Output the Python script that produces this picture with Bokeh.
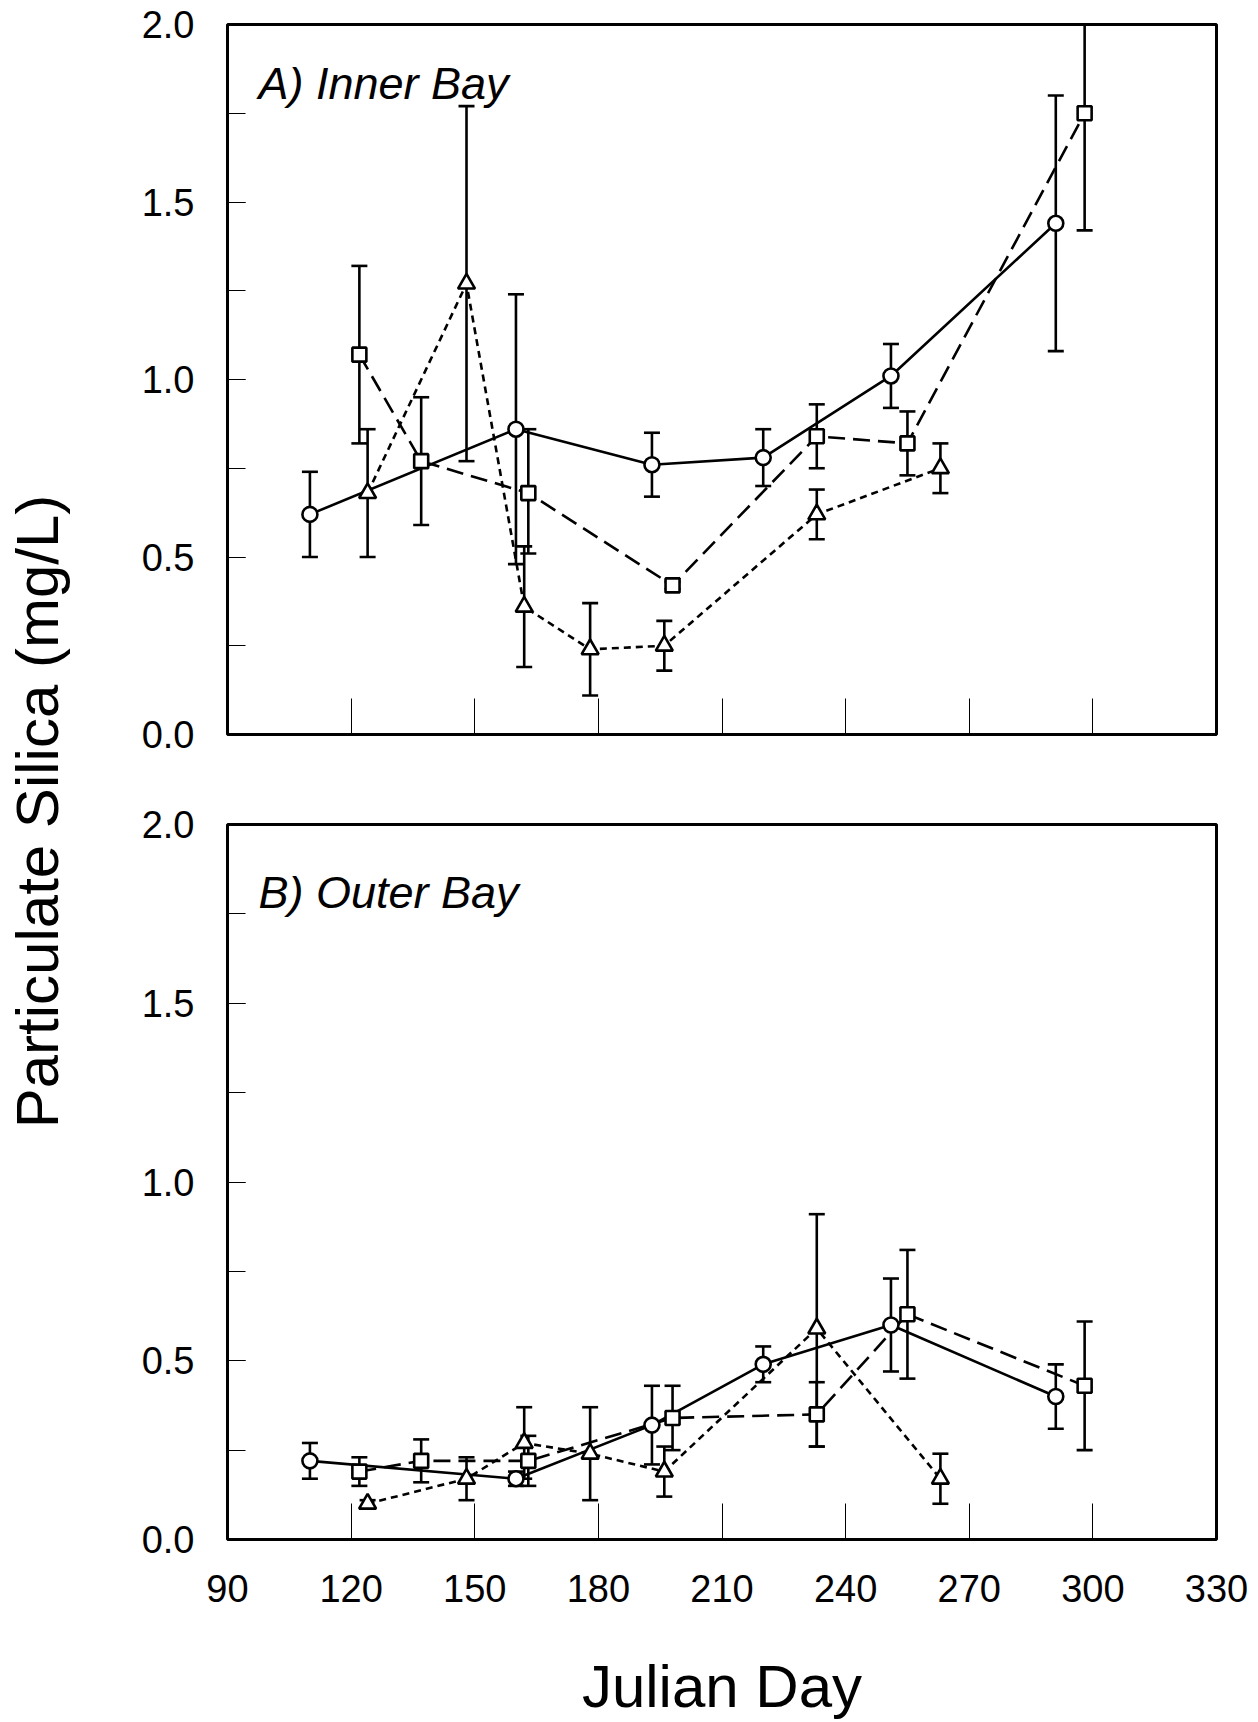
import math
from bokeh.plotting import figure
from bokeh.layouts import row, column
from bokeh.models import (Range1d, SingleIntervalTicker, Label,
                          PrintfTickFormatter, CustomLabelingPolicy)
from bokeh.embed import file_html
from bokeh.resources import INLINE

# ---------------- data ----------------
x_ticks_days = [90, 120, 150, 180, 210, 240, 270, 300, 330]
y_tick_format = "%.1f"   # 0.0, 0.5, 1.0, 1.5, 2.0

# Panel A: Inner Bay
circ_x_A = [110, 160, 193, 220, 251, 291]
circ_y_A = [0.62, 0.86, 0.76, 0.78, 1.01, 1.44]
circ_hi_A = [0.74, 1.24, 0.85, 0.86, 1.10, 1.80]
circ_lo_A = [0.50, 0.48, 0.67, 0.70, 0.92, 1.08]

sq_x_A = [122, 137, 163, 198, 233, 255, 298]
sq_y_A = [1.07, 0.77, 0.68, 0.42, 0.84, 0.82, 1.75]
sq_hi_A = [1.32, 0.95, 0.86, 0.43, 0.93, 0.91, 2.08]
sq_lo_A = [0.82, 0.59, 0.51, 0.41, 0.75, 0.73, 1.42]

tri_x_A = [124, 148, 162, 178, 196, 233, 263]
tri_y_A = [0.68, 1.27, 0.36, 0.24, 0.25, 0.62, 0.75]
tri_hi_A = [0.86, 1.77, 0.53, 0.37, 0.32, 0.69, 0.82]
tri_lo_A = [0.50, 0.77, 0.19, 0.11, 0.18, 0.55, 0.68]

# Panel B: Outer Bay
circ_x_B = [110, 160, 193, 220, 251, 291]
circ_y_B = [0.22, 0.17, 0.32, 0.49, 0.60, 0.40]
circ_hi_B = [0.27, 0.19, 0.43, 0.54, 0.73, 0.49]
circ_lo_B = [0.17, 0.15, 0.21, 0.44, 0.47, 0.31]

sq_x_B = [122, 137, 163, 198, 233, 255, 298]
sq_y_B = [0.19, 0.22, 0.22, 0.34, 0.35, 0.63, 0.43]
sq_hi_B = [0.23, 0.28, 0.29, 0.43, 0.44, 0.81, 0.61]
sq_lo_B = [0.15, 0.16, 0.15, 0.25, 0.26, 0.45, 0.25]

tri_x_B = [124, 148, 162, 178, 196, 233, 263]
tri_y_B = [0.10, 0.17, 0.27, 0.24, 0.19, 0.59, 0.17]
tri_hi_B = [0.11, 0.23, 0.37, 0.37, 0.26, 0.91, 0.24]
tri_lo_B = [0.09, 0.11, 0.17, 0.11, 0.12, 0.26, 0.10]

FONT = "Liberation Sans"
LW = 2.6


def add_series(p, xs, ys, lo, hi, dash):
    p.segment(x0=xs, y0=lo, x1=xs, y1=hi, line_color="black", line_width=LW)
    p.scatter(x=xs, y=hi, marker="dash", size=16, line_color="black", line_width=LW)
    p.scatter(x=xs, y=lo, marker="dash", size=16, line_color="black", line_width=LW)
    p.line(xs, ys, line_color="black", line_width=LW, line_dash=dash)


def add_markers(p, xs, ys, marker, size):
    p.scatter(x=xs, y=ys, marker=marker, size=size, fill_color="white",
              line_color="black", line_width=LW)


HIDE_CODE = """
const ids = [];
for (const i of indices) ids.push(i);
for (const i of ids) indices.unset(i);
return indices;
"""


def make_panel(title, title_y, show_x_labels, height, top, bottom):
    p = figure(width=1150, height=height, x_range=Range1d(90, 330),
               y_range=Range1d(0, 2.0), toolbar_location=None,
               output_backend="svg", title=None,
               min_border_left=129, min_border_right=32,
               min_border_top=top, min_border_bottom=bottom)
    p.outline_line_color = "black"
    p.outline_line_width = 3
    p.xgrid.visible = False
    p.ygrid.visible = False
    p.background_fill_color = "white"
    p.border_fill_color = "white"

    xa = p.xaxis[0]
    xa.ticker = SingleIntervalTicker(interval=30, num_minor_ticks=0)
    xa.axis_line_color = None
    xa.major_tick_in = 36
    xa.major_tick_out = 0
    xa.minor_tick_in = 0
    xa.minor_tick_out = 0
    xa.major_tick_line_width = 1
    xa.major_label_text_font = FONT
    xa.major_label_text_color = "black"
    if show_x_labels:
        xa.major_label_text_font_size = "38px"
        xa.major_label_standoff = 35
        xa.axis_label = "Julian Day"
        xa.axis_label_text_font = FONT
        xa.axis_label_text_font_size = "60px"
        xa.axis_label_text_font_style = "normal"
        xa.axis_label_text_color = "black"
        xa.axis_label_standoff = 48
    else:
        xa.major_label_text_font_size = "10px"
        xa.major_label_standoff = 0
        xa.major_label_policy = CustomLabelingPolicy(code=HIDE_CODE)

    ya = p.yaxis[0]
    ya.ticker = SingleIntervalTicker(interval=0.5, num_minor_ticks=2)
    ya.formatter = PrintfTickFormatter(format=y_tick_format)
    ya.axis_line_color = None
    ya.major_tick_in = 18
    ya.major_tick_out = 0
    ya.minor_tick_in = 18
    ya.minor_tick_out = 0
    ya.major_tick_line_width = 1
    ya.minor_tick_line_width = 1
    ya.minor_tick_line_color = "black"
    ya.major_label_text_font = FONT
    ya.major_label_text_font_size = "38px"
    ya.major_label_text_color = "black"
    ya.major_label_standoff = 33

    p.add_layout(Label(x=31, y=title_y, x_units="screen", y_units="screen",
                       text=title, text_font=FONT, text_font_size="45px",
                       text_font_style="italic", text_color="black",
                       text_align="left", text_baseline="alphabetic"))
    return p


pA = make_panel("A) Inner Bay", 651, False, 774, 24, 40)
pB = make_panel("B) Outer Bay", 647, True, 948, 50, 181)

for p, data in (
    (pA, ((circ_x_A, circ_y_A, circ_lo_A, circ_hi_A),
          (sq_x_A, sq_y_A, sq_lo_A, sq_hi_A),
          (tri_x_A, tri_y_A, tri_lo_A, tri_hi_A))),
    (pB, ((circ_x_B, circ_y_B, circ_lo_B, circ_hi_B),
          (sq_x_B, sq_y_B, sq_lo_B, sq_hi_B),
          (tri_x_B, tri_y_B, tri_lo_B, tri_hi_B))),
):
    (cx, cy, clo, chi), (sx, sy, slo, shi), (tx, ty, tlo, thi) = data
    add_series(p, tx, ty, tlo, thi, "7 5")
    add_series(p, sx, sy, slo, shi, "17 8")
    add_series(p, cx, cy, clo, chi, "solid")
    add_markers(p, tx, ty, "triangle", 17)
    add_markers(p, sx, sy, "square", 14)
    add_markers(p, cx, cy, "circle", 15)

# shared y-axis title
lab = figure(width=98, height=1722, x_range=Range1d(0, 1), y_range=Range1d(0, 1),
             toolbar_location=None, output_backend="svg", title=None,
             x_axis_location=None, y_axis_location=None, min_border=0)
lab.outline_line_color = None
lab.xgrid.visible = False
lab.ygrid.visible = False
lab.add_layout(Label(x=37, y=911, x_units="screen", y_units="screen",
                     text="Particulate Silica (mg/L)", text_font=FONT,
                     text_font_size="60px", text_color="black",
                     angle=math.pi / 2, text_align="center",
                     text_baseline="middle"))

layout = row(lab, column(pA, pB))
open("out.html", "w").write(file_html(layout, INLINE))
